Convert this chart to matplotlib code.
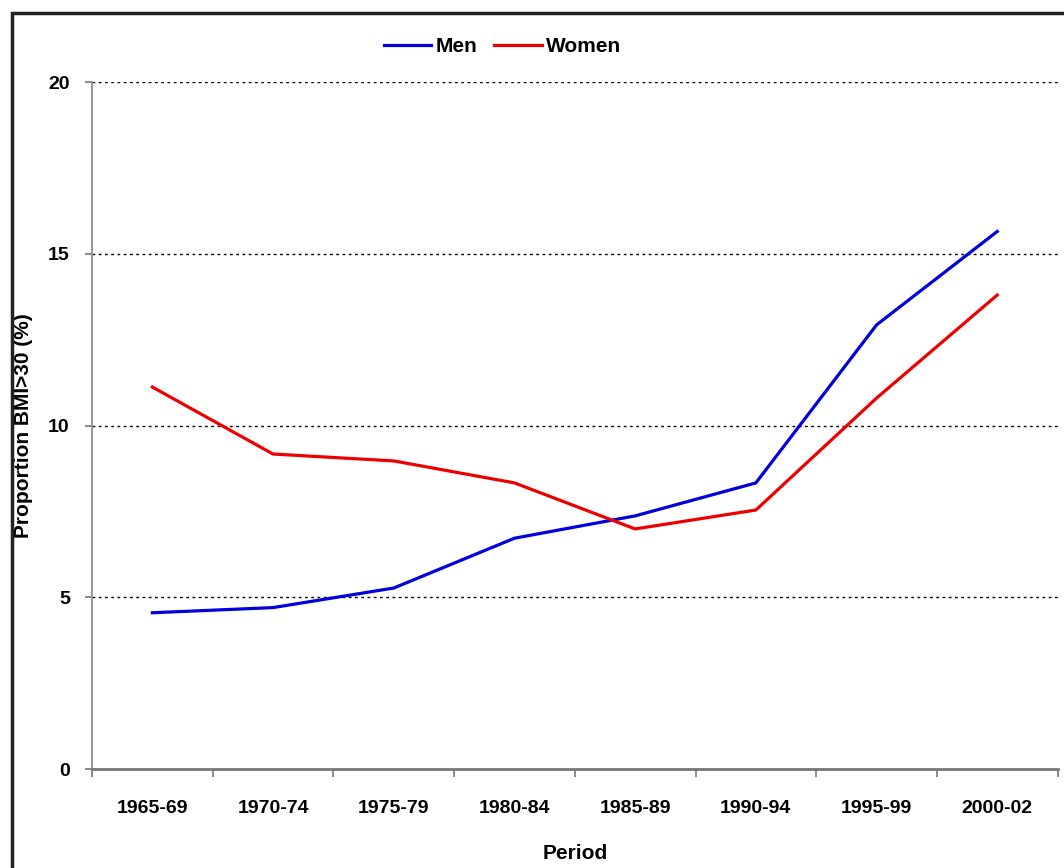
import matplotlib.pyplot as plt
from matplotlib.patches import Rectangle

plt.rcParams['font.family'] = ['Liberation Sans Narrow', 'Liberation Sans', 'DejaVu Sans']
plt.rcParams['font.weight'] = 'bold'

# data
periods = ['1965-69', '1970-74', '1975-79', '1980-84', '1985-89', '1990-94', '1995-99', '2000-02']
men = [4.55, 4.7, 5.27, 6.72, 7.37, 8.33, 12.93, 15.65]
women = [11.12, 9.17, 8.97, 8.33, 6.99, 7.54, 10.8, 13.8]

fig = plt.figure(figsize=(10.64, 8.68), dpi=100)
ax = fig.add_axes([0.0865, 0.114, 0.9075, 0.7915])

x = range(len(periods))
ax.plot(x, men, color='#0000dd', lw=2.3, label='Men')
ax.plot(x, women, color='#ee0000', lw=2.3, label='Women')

ax.set_xlim(-0.5, len(periods) - 0.5)
ax.set_ylim(0, 20)
ax.set_yticks([0, 5, 10, 15, 20])
for v in [5, 10, 15, 20]:
    ax.axhline(v, color='black', lw=1, ls=(0, (2, 2.5)), zorder=0)

ax.set_xticks(x)
ax.set_xticklabels(periods, fontsize=14, fontweight='bold')
ax.set_xticks([i + 0.5 for i in range(-1, len(periods))], minor=True)
ax.tick_params(axis='x', which='major', length=0, pad=22)
ax.tick_params(axis='x', which='minor', length=6, color='#777777', width=1.2, direction='out')
ax.tick_params(axis='y', labelsize=14, length=5, color='#777777', width=1.2, pad=11)

for s in ['top', 'right']:
    ax.spines[s].set_visible(False)
ax.spines['left'].set_color('#999999')
ax.spines['left'].set_linewidth(1.5)
ax.spines['bottom'].set_color('#777777')
ax.spines['bottom'].set_linewidth(2)

ax.set_xlabel('Period', fontsize=15, fontweight='bold', labelpad=20)
ax.set_ylabel('Proportion BMI>30 (%)', fontsize=15, fontweight='bold')
ax.yaxis.set_label_coords(-0.061, 0.5)

ax.legend(loc='lower center', bbox_to_anchor=(0.425, 1.01), ncol=2, frameon=False,
          handlelength=2.3, handletextpad=0.2, columnspacing=0.8,
          prop={'weight': 'bold', 'size': 15})

fig.patches.append(Rectangle((0.0113, -0.05), 1.2, 1.035, transform=fig.transFigure,
                             fill=False, edgecolor='#222222', lw=2.5))

fig.savefig('out.png', dpi=100)
